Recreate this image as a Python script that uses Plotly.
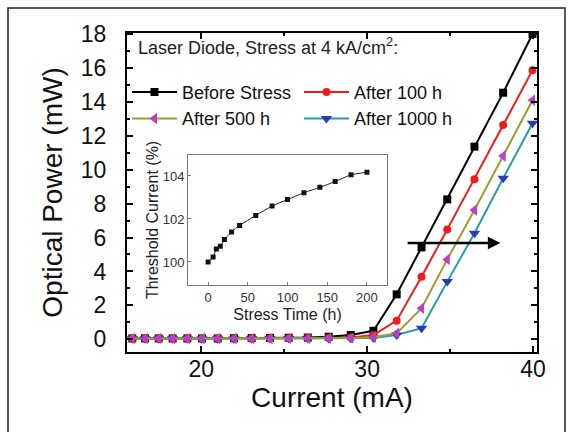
import plotly.graph_objects as go

# Drive current (mA) at which the L-I curves were sampled
current_ma = [15.84, 16.61, 17.43, 18.27, 19.16, 20.04, 20.99, 21.97, 23.03, 24.14,
              25.27, 26.42, 27.68, 29.01, 30.38, 31.78, 33.28, 34.83, 36.47, 38.20, 39.97]

# Optical output power (mW) for each stress stage
power_before = [0.05, 0.05, 0.05, 0.05, 0.05, 0.05, 0.05, 0.06, 0.07, 0.08,
                0.09, 0.10, 0.15, 0.25, 0.50, 2.65, 5.42, 8.25, 11.36, 14.54, 18.00]
power_100h = [0.04, 0.04, 0.04, 0.04, 0.04, 0.04, 0.04, 0.05, 0.05, 0.06,
              0.06, 0.07, 0.08, 0.10, 0.25, 1.10, 3.69, 6.48, 9.43, 12.63, 15.87]
power_500h = [0.04, 0.04, 0.04, 0.04, 0.04, 0.04, 0.04, 0.04, 0.05, 0.05,
              0.05, 0.05, 0.06, 0.07, 0.12, 0.35, 1.83, 4.71, 7.62, 10.80, 14.10]
power_1000h = [0.03, 0.03, 0.03, 0.03, 0.03, 0.03, 0.03, 0.03, 0.04, 0.04,
               0.04, 0.04, 0.05, 0.05, 0.07, 0.25, 0.65, 3.40, 6.25, 9.50, 12.74]

# Inset: relative threshold current vs. stress time
stress_time_h = [0, 6.3, 10.4, 15.4, 20.5, 29.6, 39.7, 60, 80.6, 100, 120.7, 140.7, 160, 180, 200]
threshold_pct = [100.0, 100.23, 100.6, 100.73, 101.04, 101.4, 101.7, 102.16, 102.6, 102.9,
                 103.22, 103.47, 103.74, 104.05, 104.17]

FONT = "Liberation Sans, Arial, sans-serif"

series = [
    # name, y, marker symbol, marker colour, line colour, legend rank
    ("Before Stress", power_before, "square", "#000000", "#000000", 1),
    ("After 100 h", power_100h, "circle", "#f01c1c", "#f01c1c", 2),
    ("After 1000 h", power_1000h, "triangle-down", "#2a3cb4", "#22a0a0", 4),
    ("After 500 h", power_500h, "triangle-left", "#c03cc0", "#9c9c2c", 3),
]

fig = go.Figure()
for name, y, sym, mcol, lcol, rank in series:
    fig.add_trace(go.Scatter(
        x=current_ma, y=y, name=name, mode="lines+markers",
        line=dict(color=lcol, width=2),
        marker=dict(symbol=sym, color=mcol, size=8 if sym in ("square", "circle") else 10),
        legendrank=rank, xaxis="x", yaxis="y",
    ))

fig.add_trace(go.Scatter(
    x=stress_time_h, y=threshold_pct, mode="lines+markers", showlegend=False,
    line=dict(color="#222222", width=1, shape="spline", smoothing=0.8),
    marker=dict(symbol="square", color="#111111", size=5),
    xaxis="x2", yaxis="y2",
))

axis_common = dict(
    showgrid=False, zeroline=False, showline=True, linecolor="#000000", linewidth=2,
    mirror="allticks", ticks="inside", tickcolor="#000000", tickwidth=1.5, ticklen=6,
    tickfont=dict(family=FONT, size=23, color="#111111"),
)

fig.update_layout(
    width=574, height=432,
    margin=dict(l=127, r=37, t=33, b=80),
    paper_bgcolor="#ffffff", plot_bgcolor="#ffffff",
    font=dict(family=FONT, color="#111111"),
    xaxis=dict(
        **axis_common, range=[15.52, 40.24], tickvals=[20, 30, 40],
        minor=dict(tickvals=[25, 35], ticklen=3, ticks="inside", tickcolor="#000000"),
        ticklabelstandoff=-5,
        title=dict(text="Current (mA)", font=dict(family=FONT, size=28, color="#111111"), standoff=6),
    ),
    yaxis=dict(
        **axis_common, range=[-0.75, 18.06], tickvals=list(range(0, 19, 2)),
        minor=dict(tickvals=list(range(1, 18, 2)), ticklen=3, ticks="inside", tickcolor="#000000"),
        ticklabelstandoff=14,
        title=dict(text="Optical Power (mW)", font=dict(family=FONT, size=28, color="#111111"), standoff=10),
    ),
    xaxis2=dict(
        domain=[0.149, 0.634], anchor="y2", range=[-25.2, 225.2],
        tickvals=[0, 50, 100, 150, 200],
        showgrid=False, zeroline=False, showline=True, linecolor="#777777", linewidth=1,
        mirror=True, ticks="inside", ticklen=3, tickcolor="#777777",
        tickfont=dict(family=FONT, size=13, color="#333333"),
        title=dict(text="Stress Time (h)", font=dict(family=FONT, size=16, color="#222222"), standoff=5),
    ),
    yaxis2=dict(
        domain=[0.21, 0.618], anchor="x2", range=[98.93, 104.98],
        tickvals=[100, 102, 104],
        showgrid=False, zeroline=False, showline=True, linecolor="#777777", linewidth=1,
        mirror=True, ticks="inside", ticklen=3, tickcolor="#777777",
        tickfont=dict(family=FONT, size=13, color="#333333"),
        title=dict(text="Threshold Current (%)", font=dict(family=FONT, size=16, color="#222222"), standoff=0),
    ),
    legend=dict(
        orientation="h", x=0.0, y=0.872, xanchor="left", yanchor="top",
        bgcolor="rgba(0,0,0,0)", font=dict(family=FONT, size=18, color="#111111"),
        entrywidth=112, entrywidthmode="pixels", itemwidth=45,
        tracegroupgap=0,
    ),
    annotations=[
        dict(text="Laser Diode, Stress at 4 kA/cm<sup>2</sup>:", xref="paper", yref="paper",
             x=0.022, y=0.957, xanchor="left", yanchor="middle", showarrow=False,
             font=dict(family=FONT, size=18, color="#222222")),
        dict(text="", x=38.03, y=5.68, ax=32.35, ay=5.68, xref="x", yref="y",
             axref="x", ayref="y", showarrow=True, arrowhead=2, arrowsize=1,
             arrowwidth=2.5, arrowcolor="#000000"),
    ],
    shapes=[
        # thin frame around the whole figure
        dict(type="rect", xref="paper", yref="paper", layer="above",
             x0=(8 - 127) / 410, x1=(565 - 127) / 410,
             y0=(352 - 445) / 319, y1=(352 - 8) / 319,
             line=dict(color="#222222", width=1.5)),
    ],
)

fig.write_html("out.html")
